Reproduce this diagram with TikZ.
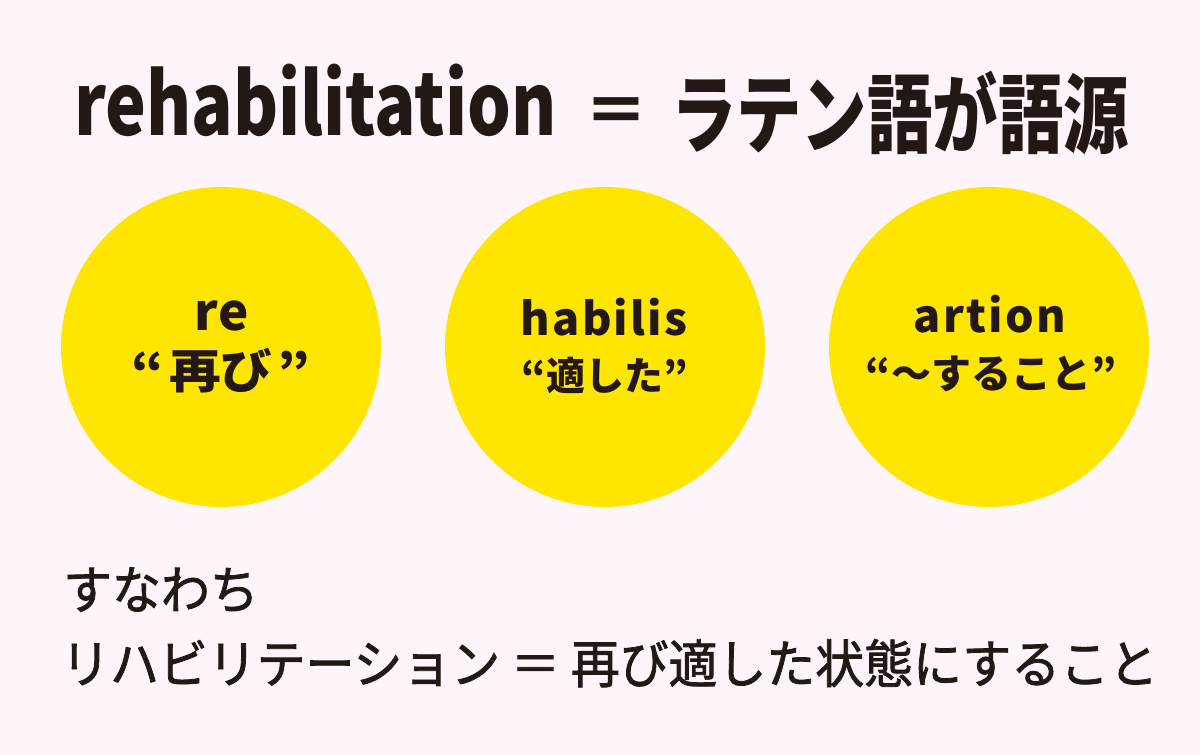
\documentclass[tikz,border=0pt]{standalone}
\usepackage{fontspec}
\setmainfont{Noto Sans CJK JP}
\usetikzlibrary{positioning}
\definecolor{bgpink}{HTML}{FDF5F9}
\definecolor{yellow1}{HTML}{FFE600}
\definecolor{ink}{HTML}{231815}
\newcommand{\fsize}[2]{\fontsize{#1}{#1}\selectfont\addfontfeatures{FakeStretch=#2}}
\newcommand{\fspaced}[2]{\fontsize{#1}{#1}\selectfont\bfseries\addfontfeatures{LetterSpace=#2}}
\newcommand{\quoted}[1]{“\hspace{0.1em}#1\hspace{0.1em}”}
\begin{document}
\begin{tikzpicture}[x=1pt,y=-1pt]
    \tikzstyle{circnode}=[circle,fill=yellow1,minimum size=320pt,inner sep=0pt] %
    \tikzstyle{txtnode}=[text=ink,inner sep=0pt,anchor=base] %

    \fill[bgpink] (0,0) rectangle (1200,755);
    \useasboundingbox (0,0) rectangle (1200,755);

    %% title
    \node[txtnode,anchor=base west,font=\bfseries\fsize{86}{0.8}] (TITLE)
        at (74,135) {rehabilitation};
    \node[txtnode,font=\bfseries\fsize{64}{1}] (EQ) at (616,134) {＝};
    \node[txtnode,font=\bfseries\fsize{86}{0.76}] (ORIGIN) at (900,146) {ラテン語が語源};

    %% circles
    \foreach \i/\x in {1/221, 2/605, 3/989}
    {
        \node[circnode] (C\i) at (\x, 347) {};
    }

    \node[txtnode,font=\fspaced{51}{2}] (RE) at (222,330) {re};
    \node[txtnode,font=\bfseries\fsize{47}{1.1}] (FUTATABI) at (221,388) {\quoted{再び}};

    \node[txtnode,font=\fspaced{45}{5}] (HABILIS) at (604,335) {habilis};
    \node[txtnode,font=\bfseries\fsize{39}{1}] (TEKISHITA) at (605,390) {“適した”};

    \node[txtnode,font=\fspaced{45}{5}] (ARTION) at (990,332) {artion};
    \node[txtnode,font=\bfseries\fsize{40}{1}] (SURUKOTO) at (991,388) {“～すること”};

    %% bottom lines
    \node[txtnode,anchor=base west,font=\fsize{52}{0.94}\addfontfeatures{FakeBold=1.5}]
        (SUNAWACHI) at (63,609) {すなわち};
    \node[txtnode,anchor=base west,font=\fsize{52}{0.94}\addfontfeatures{FakeBold=1.5}]
        (MEANING) at (61,683) {リハビリテーション ＝ 再び適した状態にすること};
\end{tikzpicture}
\end{document}
